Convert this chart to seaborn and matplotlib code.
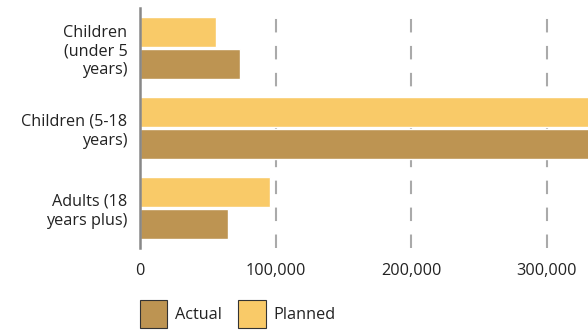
import matplotlib
matplotlib.use("Agg")
import matplotlib.pyplot as plt
from matplotlib.patches import Patch
import seaborn as sns
import pandas as pd

categories = ["Children\n(under 5\nyears)", "Children (5-18\nyears)", "Adults (18\nyears plus)"]
planned = [56000, 350000, 96000]
actual = [74000, 350000, 65000]
series_order = ["Planned", "Actual"]
x_ticks = [0, 100000, 200000, 300000]
x_tick_labels = ["0", "100,000", "200,000", "300,000"]

colors = {"Planned": "#F9CA68", "Actual": "#BD9452"}

df = pd.DataFrame({
    "category": categories * 2,
    "series": ["Planned"] * 3 + ["Actual"] * 3,
    "value": planned + actual,
})

sns.set_theme(style="white")
plt.rcParams["font.family"] = ["Open Sans", "DejaVu Sans"]
plt.rcParams["lines.scale_dashes"] = False

FS = 11.7

fig = plt.figure(figsize=(5.88, 3.31), dpi=100)
ax = fig.add_axes([140 / 588, 83 / 331, 448 / 588, 240 / 331])

sns.barplot(data=df, y="category", x="value", hue="series", hue_order=series_order,
            order=categories, palette=colors, orient="h", width=0.8, gap=0.05,
            ax=ax, legend=False, saturation=1)

ax.set_xlim(0, 330600)
ax.set_ylim(2.5, -0.5)
ax.set_xticks(x_ticks)
ax.set_xticklabels(x_tick_labels)
ax.set_xlabel("")
ax.set_ylabel("")
ax.set_axisbelow(True)
ax.xaxis.grid(True, color="#aaaaaa", linewidth=1.5, linestyle=(0, (9.7, 9.7)))
ax.yaxis.grid(False)
for s in ["top", "right", "bottom"]:
    ax.spines[s].set_visible(False)
ax.spines["left"].set_color("#888888")
ax.spines["left"].set_linewidth(1.8)
ax.tick_params(axis="x", length=0, pad=11, labelsize=FS, colors="#222222")
ax.tick_params(axis="y", length=0, pad=9, labelsize=FS, colors="#222222")
for t in ax.get_yticklabels():
    t.set_horizontalalignment("right")
    t.set_multialignment("right")
    t.set_linespacing(1.22)

handles = [Patch(facecolor=colors["Actual"], edgecolor="#333333", linewidth=0.8, label="Actual"),
           Patch(facecolor=colors["Planned"], edgecolor="#333333", linewidth=0.8, label="Planned")]
fig.legend(handles=handles, loc="lower left", bbox_to_anchor=(140 / 588, 3 / 331),
           ncol=2, frameon=False, fontsize=FS, handlelength=1.68, handleheight=2.3,
           handletextpad=0.5, columnspacing=0.98, borderpad=0, borderaxespad=0,
           labelcolor="#222222")

fig.savefig("out.png", dpi=100)
